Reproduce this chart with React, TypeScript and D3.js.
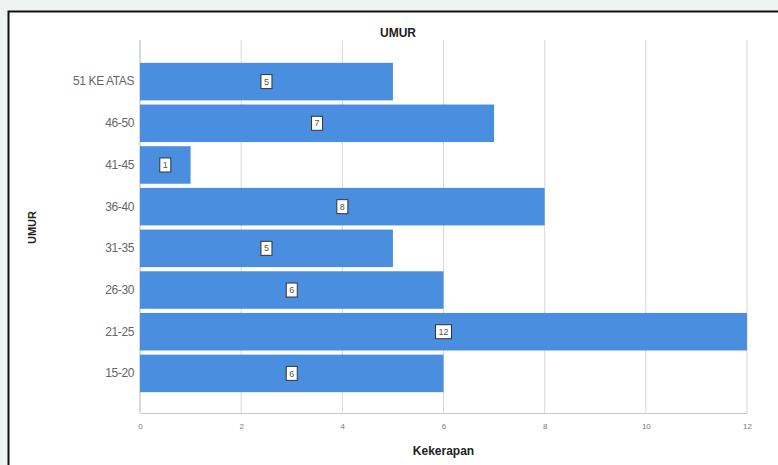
import React, { useEffect, useRef } from 'react'
import * as d3 from 'd3'

// kelompok umur, urutan dari atas ke bawah
const categories = ['51 KE ATAS', '46-50', '41-45', '36-40', '31-35', '26-30', '21-25', '15-20']
const counts = [5, 7, 1, 8, 5, 6, 12, 6]
const xTicks = [0, 2, 4, 6, 8, 10, 12]

export default function App() {
    const d3Ref = useRef<SVGSVGElement>(null)

    useEffect(() => {
        const width = 778
        const height = 465
        const margin = { top: 42, right: 31, bottom: 52, left: 140 }

        const svg = d3.select(d3Ref.current!)
        svg.selectAll('*').remove()
        svg.attr('width', width).attr('height', height)

        // latar luar + bingkai
        svg.append('rect').attr('width', width).attr('height', height).attr('fill', '#eff4f3')
        svg.append('rect')
            .attr('x', 8.5).attr('y', 11.5)
            .attr('width', width + 20).attr('height', height + 20)
            .attr('fill', '#ffffff').attr('stroke', '#111').attr('stroke-width', 2)

        const x = d3.scaleLinear()
            .domain([0, 12])
            .range([margin.left, width - margin.right])

        const y = d3.scaleBand<string>()
            .domain(categories)
            .range([margin.top, height - margin.bottom])
            .paddingInner(0.1)
            .paddingOuter(0.5)

        const g = svg.append('g')

        // grid vertikal
        g.selectAll('line.grid')
            .data(xTicks)
            .join('line')
            .attr('class', 'grid')
            .attr('x1', d => x(d)).attr('x2', d => x(d))
            .attr('y1', margin.top - 2).attr('y2', height - margin.bottom)
            .attr('stroke', '#d8d8d8').attr('stroke-width', 1)

        // sumbu x
        const xAxis = g.append('g')
            .attr('transform', `translate(0,${height - margin.bottom})`)
            .call(d3.axisBottom(x).tickValues(xTicks).tickSize(0).tickPadding(10))
        xAxis.select('.domain').attr('stroke', '#c8c8c8')
        xAxis.selectAll('text')
            .attr('fill', '#777').attr('font-size', 8).attr('font-family', 'Arial, sans-serif')

        // sumbu y
        const yAxis = g.append('g')
            .attr('transform', `translate(${margin.left},0)`)
            .call(d3.axisLeft(y).tickSize(0).tickPadding(6))
        yAxis.select('.domain').remove()
        yAxis.selectAll('text')
            .attr('fill', '#666').attr('font-size', 12).attr('font-family', 'Arial, sans-serif')
            .attr('letter-spacing', -0.4)
        g.append('line')
            .attr('x1', x(0)).attr('x2', x(0))
            .attr('y1', margin.top - 2).attr('y2', height - margin.bottom)
            .attr('stroke', '#c8c8c8')

        // batang
        g.selectAll('rect.bar')
            .data(categories)
            .join('rect')
            .attr('class', 'bar')
            .attr('x', x(0))
            .attr('y', d => y(d)!)
            .attr('width', (d, i) => x(counts[i]) - x(0))
            .attr('height', y.bandwidth())
            .attr('fill', '#4a8ee0')

        // label nilai
        const lab = g.selectAll('g.lab')
            .data(categories)
            .join('g')
            .attr('class', 'lab')
            .attr('transform', (d, i) => `translate(${(x(0) + x(counts[i])) / 2},${y(d)! + y.bandwidth() / 2})`)
        lab.append('rect')
            .attr('x', (d, i) => counts[i] >= 10 ? -8 : -5.5)
            .attr('y', -7)
            .attr('width', (d, i) => counts[i] >= 10 ? 16 : 11)
            .attr('height', 14)
            .attr('fill', '#fff').attr('stroke', '#333').attr('stroke-width', 1)
        lab.append('text')
            .attr('text-anchor', 'middle').attr('dy', '0.35em')
            .attr('font-size', 9).attr('font-family', 'Arial, sans-serif').attr('fill', '#555')
            .text((d, i) => counts[i])

        // judul
        svg.append('text')
            .attr('x', 398).attr('y', 37)
            .attr('text-anchor', 'middle')
            .attr('font-size', 12).attr('font-weight', 'bold').attr('font-family', 'Arial, sans-serif')
            .attr('fill', '#222')
            .text('UMUR')

        svg.append('text')
            .attr('transform', `translate(36,${(margin.top + height - margin.bottom) / 2}) rotate(-90)`)
            .attr('text-anchor', 'middle')
            .attr('font-size', 11).attr('font-weight', 'bold').attr('font-family', 'Arial, sans-serif')
            .attr('fill', '#222')
            .text('UMUR')

        svg.append('text')
            .attr('x', (x(0) + x(12)) / 2).attr('y', 455)
            .attr('text-anchor', 'middle')
            .attr('font-size', 12).attr('font-weight', 'bold').attr('font-family', 'Arial, sans-serif')
            .attr('fill', '#222')
            .text('Kekerapan')
    }, [])

    return (
        <div style={{ position: 'fixed', left: 0, top: 0, width: 778, height: 465, overflow: 'hidden' }}>
            <svg ref={d3Ref} style={{ display: 'block' }}></svg>
        </div>
    )
}
